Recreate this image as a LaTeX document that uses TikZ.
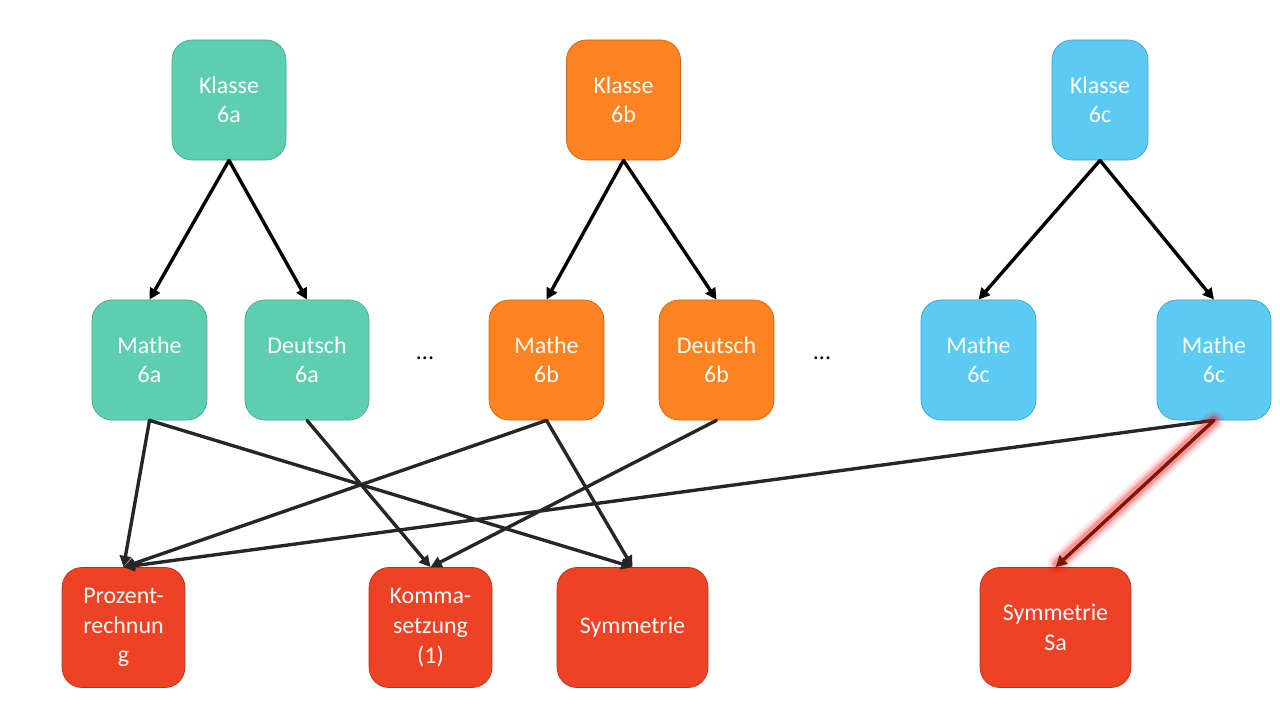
\documentclass[tikz,border=0pt]{standalone}
\usepackage{fontspec}
\setmainfont{Carlito}
\usepackage{tikz}
\usetikzlibrary{arrows.meta}

\definecolor{gruen}{HTML}{5DCEAF}
\definecolor{gruenrand}{HTML}{4AA88D}
\definecolor{orange}{HTML}{FF8320}
\definecolor{orangerand}{HTML}{C9661A}
\definecolor{blau}{HTML}{5BCBF3}
\definecolor{blaurand}{HTML}{3FA5CC}
\definecolor{rot}{HTML}{EF4123}
\definecolor{rotrand}{HTML}{B8311B}
\definecolor{pfeilgrau}{HTML}{262626}
\definecolor{dunkelrot}{HTML}{7A1808}

\begin{document}
\begin{tikzpicture}[
						x=0.025cm, y=-0.025cm,
						every node/.style={font=\fontsize{17}{21}\selectfont},
						box/.style={rounded corners=0.5cm, minimum height=3cm, inner sep=0pt,
							align=center, text=white, line width=0.5pt},
						klasseA/.style={box, fill=gruen, draw=gruenrand},
						klasseB/.style={box, fill=orange, draw=orangerand},
						klasseC/.style={box, fill=blau, draw=blaurand},
						thema/.style={box, fill=rot, draw=rotrand},
						pfeil/.style={line width=2.4pt, -{Triangle[length=8pt,width=8pt]}},
						line cap=round,
						line join=round
						]
						
						\useasboundingbox (0,0) rectangle (1280,720);
						
						% Klassen
						\node[klasseA, minimum width=2.85cm] (k6a) at (229,100) {Klasse\\6a};
						\node[klasseB, minimum width=2.85cm] (k6b) at (623.5,100) {Klasse\\6b};
						\node[klasseC, minimum width=2.4cm] (k6c) at (1100,100) {Klasse\\6c};
						
						% Kurse
						\node[klasseA, minimum width=2.87cm] (m6a) at (149.5,360) {Mathe\\6a};
						\node[klasseA, minimum width=3.1cm] (d6a) at (307,360) {Deutsch\\6a};
						\node (dotsA) at (425,358) {...};
						\node[klasseB, minimum width=2.87cm] (m6b) at (546.5,360) {Mathe\\6b};
						\node[klasseB, minimum width=2.87cm] (d6b) at (716.5,360) {Deutsch\\6b};
						\node (dotsB) at (822,358) {...};
						\node[klasseC, minimum width=2.87cm] (m6c) at (978.5,360) {Mathe\\6c};
						\node[klasseC, minimum width=2.85cm] (m6cb) at (1214,360) {Mathe\\6c};
						
						% Themen
						\node[thema, minimum width=3.07cm] (proz) at (123.5,627.5) {Prozent-\\rechnun\\g};
						\node[thema, minimum width=3.07cm] (komma) at (430.5,627.5) {Komma-\\setzung\\(1)};
						\node[thema, minimum width=3.77cm] (sym) at (632.5,627.5) {Symmetrie};
						\node[thema, minimum width=3.77cm] (symsa) at (1055.5,627.5) {Symmetrie\\Sa};
						
						% Klasse -> Kurs
						\draw[pfeil, black] (k6a.south) -- (m6a.north);
						\draw[pfeil, black] (k6a.south) -- (d6a.north);
						\draw[pfeil, black] (k6b.south) -- (m6b.north);
						\draw[pfeil, black] (k6b.south) -- (d6b.north);
						\draw[pfeil, black] (k6c.south) -- (m6c.north);
						\draw[pfeil, black] (k6c.south) -- (m6cb.north);
						
						% Kurs -> Thema
						\draw[pfeil, pfeilgrau] (m6a.south) -- (proz.north);
						\draw[pfeil, pfeilgrau] (m6a.south) -- (sym.north);
						\draw[pfeil, pfeilgrau] (d6a.south) -- (komma.north);
						\draw[pfeil, pfeilgrau] (m6b.south) -- (proz.north);
						\draw[pfeil, pfeilgrau] (m6b.south) -- (sym.north);
						\draw[pfeil, pfeilgrau] (d6b.south) -- (komma.north);
						\draw[pfeil, pfeilgrau] (m6cb.south) -- (proz.north);
						
						% markierter Pfeil mit Leuchten
						\foreach \w/\o in {14pt/0.1, 10pt/0.15, 7pt/0.25}
						\draw[line width=\w, red, opacity=\o] (m6cb.south) -- ([shift={(2,-3)}]symsa.north);
						\draw[pfeil, dunkelrot] (m6cb.south) -- (symsa.north);
						
					\end{tikzpicture}
\end{document}
